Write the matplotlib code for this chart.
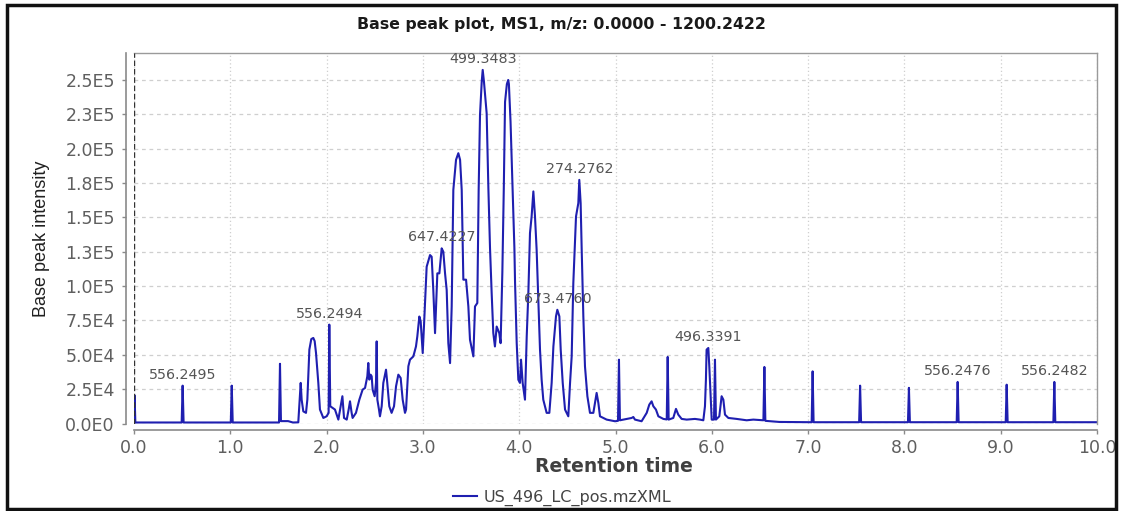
import matplotlib
matplotlib.use('Agg')
import matplotlib.pyplot as plt
from matplotlib.patches import Rectangle
import numpy as np

# retention time (min) and base peak intensity (x1000)
rt = [
    0.000, 0.006, 0.014, 0.495, 0.505, 0.515, 1.005, 1.015, 1.025, 1.506,
    1.516, 1.526, 1.600, 1.650, 1.706,
    1.731, 1.741, 1.758, 1.786, 1.800, 1.821, 1.841, 1.862, 1.876, 1.890,
    1.914, 1.931, 1.966, 2.000, 2.021, 2.028, 2.038, 2.063, 2.087, 2.105,
    2.122, 2.146, 2.164, 2.181, 2.209, 2.229, 2.243, 2.260, 2.270, 2.305,
    2.340, 2.374, 2.399, 2.423, 2.433, 2.444, 2.457, 2.468, 2.478, 2.499,
    2.513, 2.520, 2.527, 2.544, 2.554, 2.572, 2.589, 2.617, 2.630, 2.651,
    2.675, 2.700, 2.721, 2.745, 2.769, 2.790, 2.814, 2.825,
    2.849, 2.866, 2.901, 2.928, 2.942, 2.963, 2.977, 2.998, 3.011, 3.039,
    3.074, 3.091, 3.108, 3.126, 3.150, 3.171, 3.195, 3.212, 3.230, 3.247,
    3.264, 3.282, 3.299, 3.316, 3.344, 3.368, 3.386, 3.403, 3.420, 3.448,
    3.472, 3.489, 3.524, 3.541, 3.565, 3.579,
    3.593, 3.611, 3.621, 3.634, 3.662, 3.680, 3.697, 3.714, 3.731, 3.748,
    3.766, 3.793, 3.807, 3.825, 3.840, 3.853, 3.872, 3.886, 3.893, 3.910,
    3.931, 3.950, 3.957, 3.974, 3.991, 4.008, 4.019, 4.036, 4.060, 4.078,
    4.095, 4.112, 4.129, 4.147, 4.164, 4.181, 4.198, 4.216, 4.233, 4.250,
    4.285, 4.313, 4.337, 4.355, 4.382, 4.396, 4.417, 4.431, 4.452, 4.476,
    4.510, 4.528, 4.545, 4.562, 4.590, 4.614, 4.624, 4.638, 4.649, 4.666,
    4.683, 4.708, 4.735, 4.770, 4.804, 4.822, 4.839, 4.908, 4.995, 5.026,
    5.036, 5.046,
    5.168, 5.185, 5.202, 5.271, 5.324, 5.351, 5.375, 5.393, 5.420, 5.445,
    5.497, 5.532, 5.542, 5.552, 5.600, 5.628, 5.652, 5.687, 5.739, 5.825,
    5.877, 5.912, 5.929, 5.939, 5.946, 5.964, 5.974, 5.988, 5.999, 6.023,
    6.033, 6.043, 6.078, 6.102, 6.120, 6.137, 6.172, 6.258, 6.362, 6.431,
    6.536, 6.546, 6.556, 6.700, 7.037, 7.047, 7.057, 7.530, 7.540, 7.550,
    8.037, 8.047, 8.057, 8.543, 8.553, 8.563, 9.052, 9.062, 9.072, 9.547,
    9.557, 9.567, 10.000,
]
intensity_k = [
    0.8, 20.5, 0.8, 0.8, 27.6, 0.8, 0.8, 27.6, 0.8, 0.8,
    43.5, 1.8, 1.8, 0.8, 0.9,
    29.6, 17.4, 8.9, 7.8, 17.4, 53.8, 61.5, 62.3, 60.0, 51.4,
    29.6, 10.2, 4.1, 5.3, 7.8, 72.0, 12.6, 11.4, 10.2, 6.5,
    2.9, 12.6, 19.9, 4.1, 2.9, 10.2, 16.2, 7.8, 4.1, 7.8,
    17.4, 24.7, 25.9, 34.4, 44.1, 32.0, 35.6, 34.4, 24.7, 19.9,
    29.6, 59.8, 17.4, 10.2, 5.3, 12.6, 29.6, 39.2, 29.6, 12.6,
    7.8, 12.6, 27.1, 35.6, 33.2, 17.4, 7.8, 10.2,
    41.7, 46.5, 48.9, 56.1, 63.4, 77.9, 74.3, 51.3, 70.6, 114.1,
    122.6, 121.4, 97.2, 65.8, 109.3, 109.3, 127.5, 125.0, 109.3, 97.2,
    58.5, 44.0, 85.2, 170.0, 191.9, 196.7, 191.9, 170.0, 104.7, 104.7,
    85.2, 61.0, 48.9, 85.2, 87.7, 170.0,
    224.6, 248.8, 257.3, 248.8, 225.8, 171.0, 127.5, 95.0, 65.9, 56.1,
    70.6, 65.8, 58.5, 110.0, 171.0, 234.0, 247.0, 250.0, 247.0, 219.7,
    171.0, 128.0, 102.3, 58.6, 31.9, 29.6, 46.5, 29.6, 17.4, 63.4,
    94.9, 138.6, 150.7, 168.9, 150.7, 126.5, 90.2, 53.8, 31.9, 17.4,
    7.8, 7.8, 29.6, 56.1, 78.0, 82.8, 78.0, 53.8, 29.6, 10.2,
    5.3, 29.6, 48.9, 102.3, 150.7, 160.4, 177.3, 160.4, 126.5, 78.0,
    41.7, 19.9, 7.8, 7.8, 22.3, 15.0, 5.3, 2.9, 1.7, 2.0,
    46.5, 2.4,
    4.1, 4.8, 2.9, 1.7, 7.8, 13.8, 16.2, 12.6, 10.2, 5.3,
    3.4, 3.0, 48.5, 2.9, 4.1, 10.7, 6.5, 3.4, 2.9, 3.4,
    2.9, 2.4, 12.6, 32.0, 53.8, 55.0, 41.7, 19.9, 2.9, 2.9,
    46.5, 2.9, 5.3, 19.9, 17.4, 6.5, 4.1, 3.4, 2.4, 2.9,
    2.4, 41.2, 2.0, 1.2, 1.0, 38.0, 1.0, 1.0, 27.6, 1.0,
    1.0, 26.0, 1.0, 1.0, 30.3, 1.0, 1.0, 28.3, 1.0, 1.0,
    30.3, 1.0, 1.0,
]

# labelled peaks
peak_rt = [0.505, 2.028, 3.195, 3.621, 4.396, 4.624, 5.964, 8.553, 9.557]
peak_int_k = [27.6, 72.0, 127.5, 257.3, 82.8, 177.3, 55.0, 30.3, 30.3]
peak_mz = ['556.2495', '556.2494', '647.4227', '499.3483', '673.4760',
           '274.2762', '496.3391', '556.2476', '556.2482']

ytick_vals = [0, 25000, 50000, 75000, 100000, 125000, 150000, 175000, 200000, 225000, 250000]
ytick_labels = ['0.0E0', '2.5E4', '5.0E4', '7.5E4', '1.0E5', '1.3E5', '1.5E5',
                '1.8E5', '2.0E5', '2.3E5', '2.5E5']
xtick_vals = [0, 1, 2, 3, 4, 5, 6, 7, 8, 9, 10]
xtick_labels = ['0.0', '1.0', '2.0', '3.0', '4.0', '5.0', '6.0', '7.0', '8.0', '9.0', '10.0']

W, H = 1122, 511
fig = plt.figure(figsize=(W / 100, H / 100), dpi=100)
ax = fig.add_axes([134 / W, 87 / H, 963 / W, 371 / H])

line_color = '#1f1fb0'
y = np.array(intensity_k) * 1000
ln, = ax.plot(rt, y, color=line_color, lw=1.5, label='US_496_LC_pos.mzXML')

for t, v, lab in zip(peak_rt, peak_int_k, peak_mz):
    ax.annotate(lab, (t, v * 1000), xytext=(0, 11), textcoords='offset pixels',
                ha='center', va='center', fontsize=10.3, color='#555555')

ax.set_xlim(0, 10)
ax.set_ylim(-300, 269600)
ax.set_xticks(xtick_vals)
ax.set_xticklabels(xtick_labels)
ax.set_yticks(ytick_vals)
ax.set_yticklabels(ytick_labels)

ax.grid(axis='x', color='#cfcfcf', linestyle=(0, (1, 2)), lw=0.9)
ax.grid(axis='y', color='#cfcfcf', linestyle=(0, (3, 3)), lw=0.9)
ax.set_axisbelow(True)

# dashed marker at rt = 0
ax.axvline(0, color='#333333', lw=1.0, linestyle=(0, (4, 2)), zorder=3)

ax.spines['left'].set_position(('outward', 5.8))
ax.spines['bottom'].set_position(('outward', 4.3))
for s in ['left', 'bottom']:
    ax.spines[s].set_color('#8a8a8a')
    ax.spines[s].set_linewidth(1.2)
for s in ['top', 'right']:
    ax.spines[s].set_color('#9a9a9a')
    ax.spines[s].set_linewidth(1.0)

ax.tick_params(axis='both', direction='out', length=3, width=1, color='#8a8a8a',
               labelcolor='#5f5f5f', labelsize=12.5)
ax.tick_params(axis='y', pad=5)
ax.tick_params(axis='x', pad=3.5)

fig.text(561 / W, 1 - 24 / H, 'Base peak plot, MS1, m/z: 0.0000 - 1200.2422',
         ha='center', va='center', fontsize=11.3, fontweight='bold', color='#1a1a1a')
fig.text(614 / W, 1 - 466 / H, 'Retention time', ha='center', va='center',
         fontsize=13.5, fontweight='bold', color='#404040')
fig.text(42 / W, 1 - 239 / H, 'Base peak intensity', ha='center', va='center',
         rotation=90, fontsize=13, color='#202020',
         family=['Liberation Sans', 'DejaVu Sans'])

leg = fig.legend(handles=[ln], loc='center', bbox_to_anchor=(562 / W, 1 - 498 / H),
                 frameon=False, fontsize=11.5, handlelength=1.5, handletextpad=0.4)
for txt in leg.get_texts():
    txt.set_color('#444444')

fig.add_artist(Rectangle((7 / W, 2 / H), 1109 / W, 504 / H, transform=fig.transFigure,
                         fill=False, lw=2.5, ec='#111111'))

fig.savefig('out.png', dpi=100)
